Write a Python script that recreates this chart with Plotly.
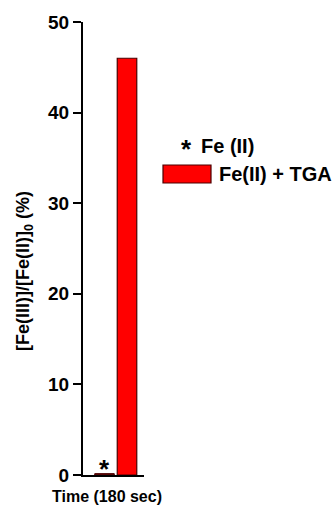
import plotly.graph_objects as go

# Single time point, two conditions
time_label = ["180 sec"]
fe2_only = [0.15]        # Fe(II) alone, barely above zero
fe2_tga = [46.0]         # Fe(II) + TGA
series_names = ["Fe (II)", "Fe(II) + TGA"]
y_ticks = [0, 10, 20, 30, 40, 50]

FONT = "Liberation Sans, Arial, sans-serif"

W, H = 334, 510
ML, MR, MT, MB = 83, 190, 22, 35
PW = W - ML - MR
PH = H - MT - MB


def bold(size):
    return dict(family=FONT, size=size, color="black", weight="bold")


fig = go.Figure()

fig.add_trace(go.Bar(
    x=time_label, y=fe2_only, name=series_names[0],
    marker=dict(color="#6a0c0c", line=dict(color="#4a0000", width=1)),
))
fig.add_trace(go.Bar(
    x=time_label, y=fe2_tga, name=series_names[1],
    marker=dict(color="#ff0000", line=dict(color="#4a0000", width=1.2)),
))

# asterisk flag sitting on the Fe(II) bar
fig.add_annotation(x=time_label[0], y=fe2_only[0], xref="x", yref="y",
                   text="*", showarrow=False, xanchor="center", yanchor="bottom",
                   xshift=-11, yshift=-12, font=bold(26))


def px_x(p):
    return (p - ML) / PW


def px_y(p):
    return 1 - (p - MT) / PH


# legend drawn by hand: asterisk entry and filled box entry
fig.add_annotation(x=px_x(186), y=px_y(132), xref="paper", yref="paper",
                   text="*", showarrow=False, xanchor="center", yanchor="top",
                   font=bold(26))
fig.add_annotation(x=px_x(199), y=px_y(146), xref="paper", yref="paper",
                   text=series_names[0], showarrow=False,
                   xanchor="left", yanchor="middle", font=bold(20))
fig.add_shape(type="rect", xref="paper", yref="paper",
              x0=px_x(163), x1=px_x(211), y0=px_y(183), y1=px_y(165),
              fillcolor="#ff0000", line=dict(color="#4a0000", width=1.2))
fig.add_annotation(x=px_x(217), y=px_y(174), xref="paper", yref="paper",
                   text=series_names[1], showarrow=False,
                   xanchor="left", yanchor="middle", font=bold(20))

# axis titles
fig.add_annotation(x=px_x(24), y=px_y(271), xref="paper", yref="paper",
                   text="[Fe(III)]/[Fe(II)]<sub>0</sub> (%)", showarrow=False,
                   textangle=-90, xanchor="center", yanchor="middle",
                   font=bold(18))
fig.add_annotation(x=px_x(107), y=px_y(496), xref="paper", yref="paper",
                   text="Time (180 sec)", showarrow=False,
                   xanchor="center", yanchor="middle", font=bold(16))

fig.update_layout(
    width=W, height=H,
    margin=dict(l=ML, r=MR, t=MT, b=MB, pad=0),
    paper_bgcolor="white", plot_bgcolor="white",
    showlegend=False,
    barmode="group", bargap=0.262, bargroupgap=0.133,
    font=dict(family=FONT, color="black"),
    xaxis=dict(range=[-0.537, 0.463], showticklabels=False, ticks="",
               showline=True, linecolor="black", linewidth=2,
               showgrid=False, zeroline=False, fixedrange=True),
    yaxis=dict(range=[0, 50], tickvals=y_ticks, ticks="outside", ticklen=8,
               tickwidth=2, tickcolor="black",
               showline=True, linecolor="black", linewidth=2,
               showgrid=False, zeroline=False,
               tickfont=bold(19)),
)

fig.write_html("out.html")
